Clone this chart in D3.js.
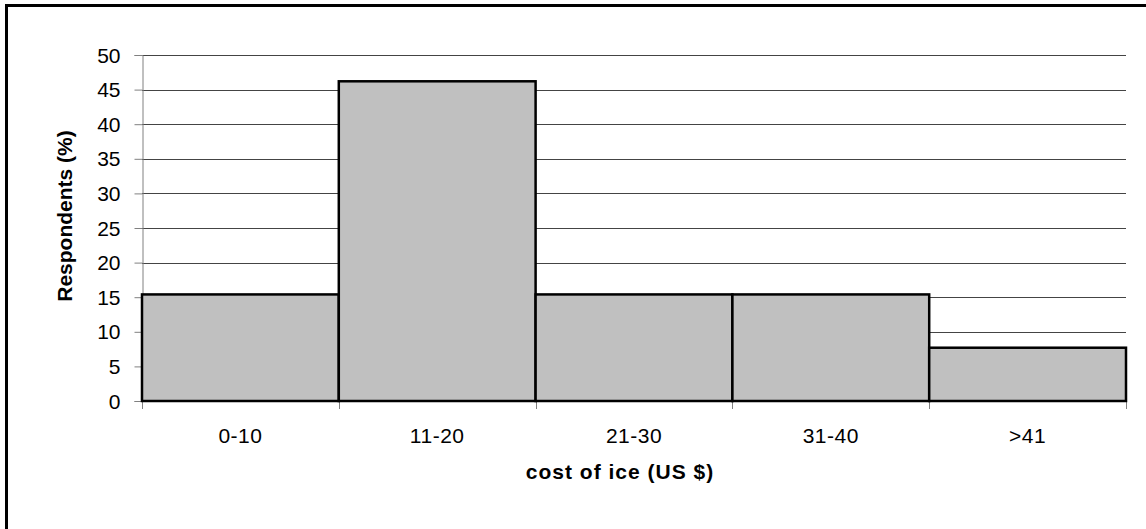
<!DOCTYPE html>
<html>
<head>
<meta charset="utf-8">
<script src="https://cdn.jsdelivr.net/npm/d3@7"></script>
<style>
  html, body { margin: 0; padding: 0; background: #fff; }
  svg { display: block; }
  text { font-family: Arial, "Liberation Sans", sans-serif; fill: #000; }
</style>
</head>
<body>
<svg id="chart" width="1146" height="529"></svg>
<script>
const categories = ["0-10", "11-20", "21-30", "31-40", ">41"];
const values = [15.4, 46.2, 15.4, 15.4, 7.7];
const yTicks = [0, 5, 10, 15, 20, 25, 30, 35, 40, 45, 50];
const xTitle = "cost of ice (US $)";
const yTitle = "Respondents (%)";

const svg = d3.select("#chart");
const W = 1146, H = 529;
const m = { left: 142, right: 1126, top: 55, bottom: 401 };

// outer frame (clipped on right and bottom as in the reference)
svg.append("rect")
  .attr("x", 6.5).attr("y", 5.5)
  .attr("width", W + 20).attr("height", H + 20)
  .attr("fill", "none").attr("stroke", "#000").attr("stroke-width", 3);

const x = d3.scaleBand().domain(categories).range([m.left, m.right]).padding(0);
const y = d3.scaleLinear().domain([0, 50]).range([m.bottom, m.top]);

// gridlines
svg.append("g").selectAll("line")
  .data(yTicks.filter(d => d > 0))
  .join("line")
  .attr("x1", m.left).attr("x2", m.right)
  .attr("y1", d => Math.round(y(d)) + 0.5).attr("y2", d => Math.round(y(d)) + 0.5)
  .attr("stroke", "#444").attr("stroke-width", 1);

// y axis
const yAxis = d3.axisLeft(y).tickValues(yTicks).tickSize(8).tickPadding(14);
const gy = svg.append("g").attr("transform", `translate(${m.left + 0.5},0)`).call(yAxis);
gy.select(".domain").attr("stroke", "#808080");
gy.selectAll(".tick line").attr("stroke", "#808080");
gy.selectAll(".tick text")
  .style("font-size", "21px")
  .style("font-family", "Arial, 'Liberation Sans', sans-serif")
  .attr("fill", "#000")
  .attr("dy", "0.34em");

// x axis (ticks at band boundaries)
const boundaries = categories.map(c => x(c)).concat([x(categories[categories.length - 1]) + x.bandwidth()]);
svg.append("line")
  .attr("x1", m.left).attr("x2", m.right)
  .attr("y1", m.bottom + 0.5).attr("y2", m.bottom + 0.5)
  .attr("stroke", "#808080");
svg.append("g").selectAll("line")
  .data(boundaries)
  .join("line")
  .attr("x1", d => Math.round(d) + 0.5).attr("x2", d => Math.round(d) + 0.5)
  .attr("y1", m.bottom).attr("y2", m.bottom + 8)
  .attr("stroke", "#808080");

// bars
svg.append("g").selectAll("rect")
  .data(categories)
  .join("rect")
  .attr("x", c => x(c))
  .attr("width", x.bandwidth())
  .attr("y", (c, i) => y(values[i]))
  .attr("height", (c, i) => y(0) - y(values[i]))
  .attr("fill", "#c0c0c0")
  .attr("stroke", "#000")
  .attr("stroke-width", 2.5);

// x tick labels
svg.append("g").selectAll("text")
  .data(categories)
  .join("text")
  .attr("x", c => x(c) + x.bandwidth() / 2)
  .attr("y", 443)
  .attr("text-anchor", "middle")
  .style("font-size", "21px")
  .style("letter-spacing", "0.5px")
  .text(c => c);

// axis titles
svg.append("text")
  .attr("x", (m.left + m.right) / 2 - 14)
  .attr("y", 479)
  .attr("text-anchor", "middle")
  .style("font-size", "21px")
  .style("font-weight", "bold")
  .style("letter-spacing", "1px")
  .text(xTitle);

svg.append("text")
  .attr("transform", `translate(72,216) rotate(-90)`)
  .attr("text-anchor", "middle")
  .style("font-size", "21px")
  .style("font-weight", "bold")
  .text(yTitle);
</script>
</body>
</html>
